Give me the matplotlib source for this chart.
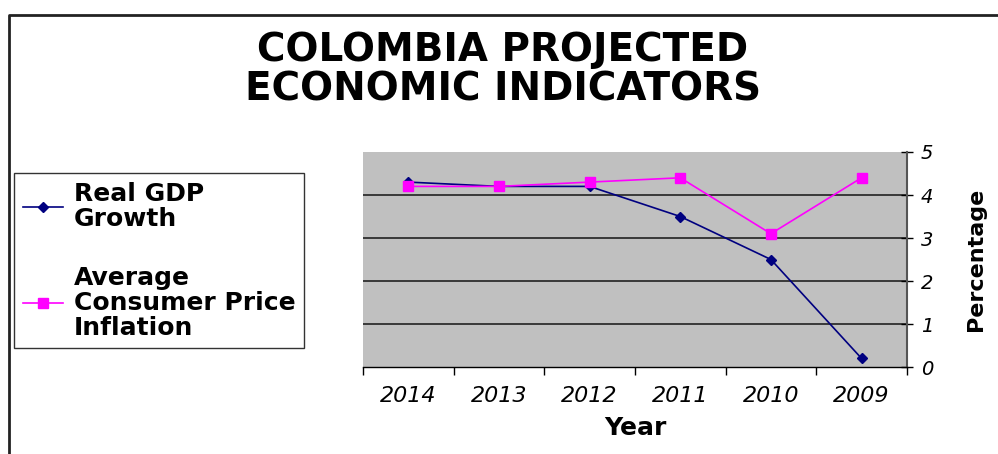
import matplotlib.pyplot as plt
from matplotlib.lines import Line2D

# data
years = ['2014', '2013', '2012', '2011', '2010', '2009']
gdp_growth = [4.3, 4.2, 4.2, 3.5, 2.5, 0.2]
cpi_inflation = [4.2, 4.2, 4.3, 4.4, 3.1, 4.4]

fig = plt.figure(figsize=(9.98, 4.54), dpi=100)

# outer frame (left and top only visible in the crop)
fig.add_artist(Line2D([0.009, 0.009, 1.0], [0.0, 0.967, 0.967],
                      transform=fig.transFigure, color='#222222', lw=2))

ax = fig.add_axes([0.3637, 0.1916, 0.545, 0.4736])
ax.set_facecolor('#C0C0C0')
x = list(range(len(years)))

ax.plot(x, gdp_growth, color='#000080', marker='D', markersize=5, lw=1.2,
        label='Real GDP\nGrowth')
ax.plot(x, cpi_inflation, color='#FF00FF', marker='s', markersize=6.5, lw=1.2,
        label='Average\nConsumer Price\nInflation')

ax.set_xlim(-0.5, len(years) - 0.5)
ax.set_ylim(0, 5)
ax.set_yticks(range(6))
for v in range(1, 5):
    ax.axhline(v, color='#222222', lw=1.2, zorder=0.5)

# category labels at centres, tick marks at the boundaries
ax.set_xticks(x)
ax.set_xticklabels(years, fontsize=16, style='italic')
ax.tick_params(axis='x', which='major', length=0, pad=14)
ax.set_xticks([i - 0.5 for i in range(len(years) + 1)], minor=True)
ax.tick_params(axis='x', which='minor', length=6, width=1, direction='out')

ax.yaxis.tick_right()
ax.yaxis.set_label_position('right')
ax.tick_params(axis='y', direction='inout', length=8, width=1, labelsize=14,
               pad=6)
for t in ax.get_yticklabels():
    t.set_style('italic')

for s in ['top', 'left']:
    ax.spines[s].set_visible(False)
ax.spines['right'].set_color('#555555')
ax.spines['right'].set_linewidth(1.5)
ax.spines['bottom'].set_linewidth(1)

ax.set_xlabel('Year', fontsize=18, fontweight='bold', labelpad=7)
ax.set_ylabel('Percentage', fontsize=16, fontweight='bold', labelpad=24)

fig.text(0.504, 0.846, 'COLOMBIA PROJECTED\nECONOMIC INDICATORS', ha='center',
         va='center', fontsize=28, fontweight='bold', linespacing=1.05)

leg = fig.legend(loc='upper left', bbox_to_anchor=(0.014, 0.619),
                 prop={'size': 18, 'weight': 'bold'}, frameon=True,
                 fancybox=False, edgecolor='black', handlelength=1.6,
                 labelspacing=1.4, borderpad=0.35, handletextpad=0.45,
                 borderaxespad=0)
leg.get_frame().set_linewidth(1)
for t in leg.get_texts():
    t.set_linespacing(1.05)

fig.savefig('out.png', dpi=100)
